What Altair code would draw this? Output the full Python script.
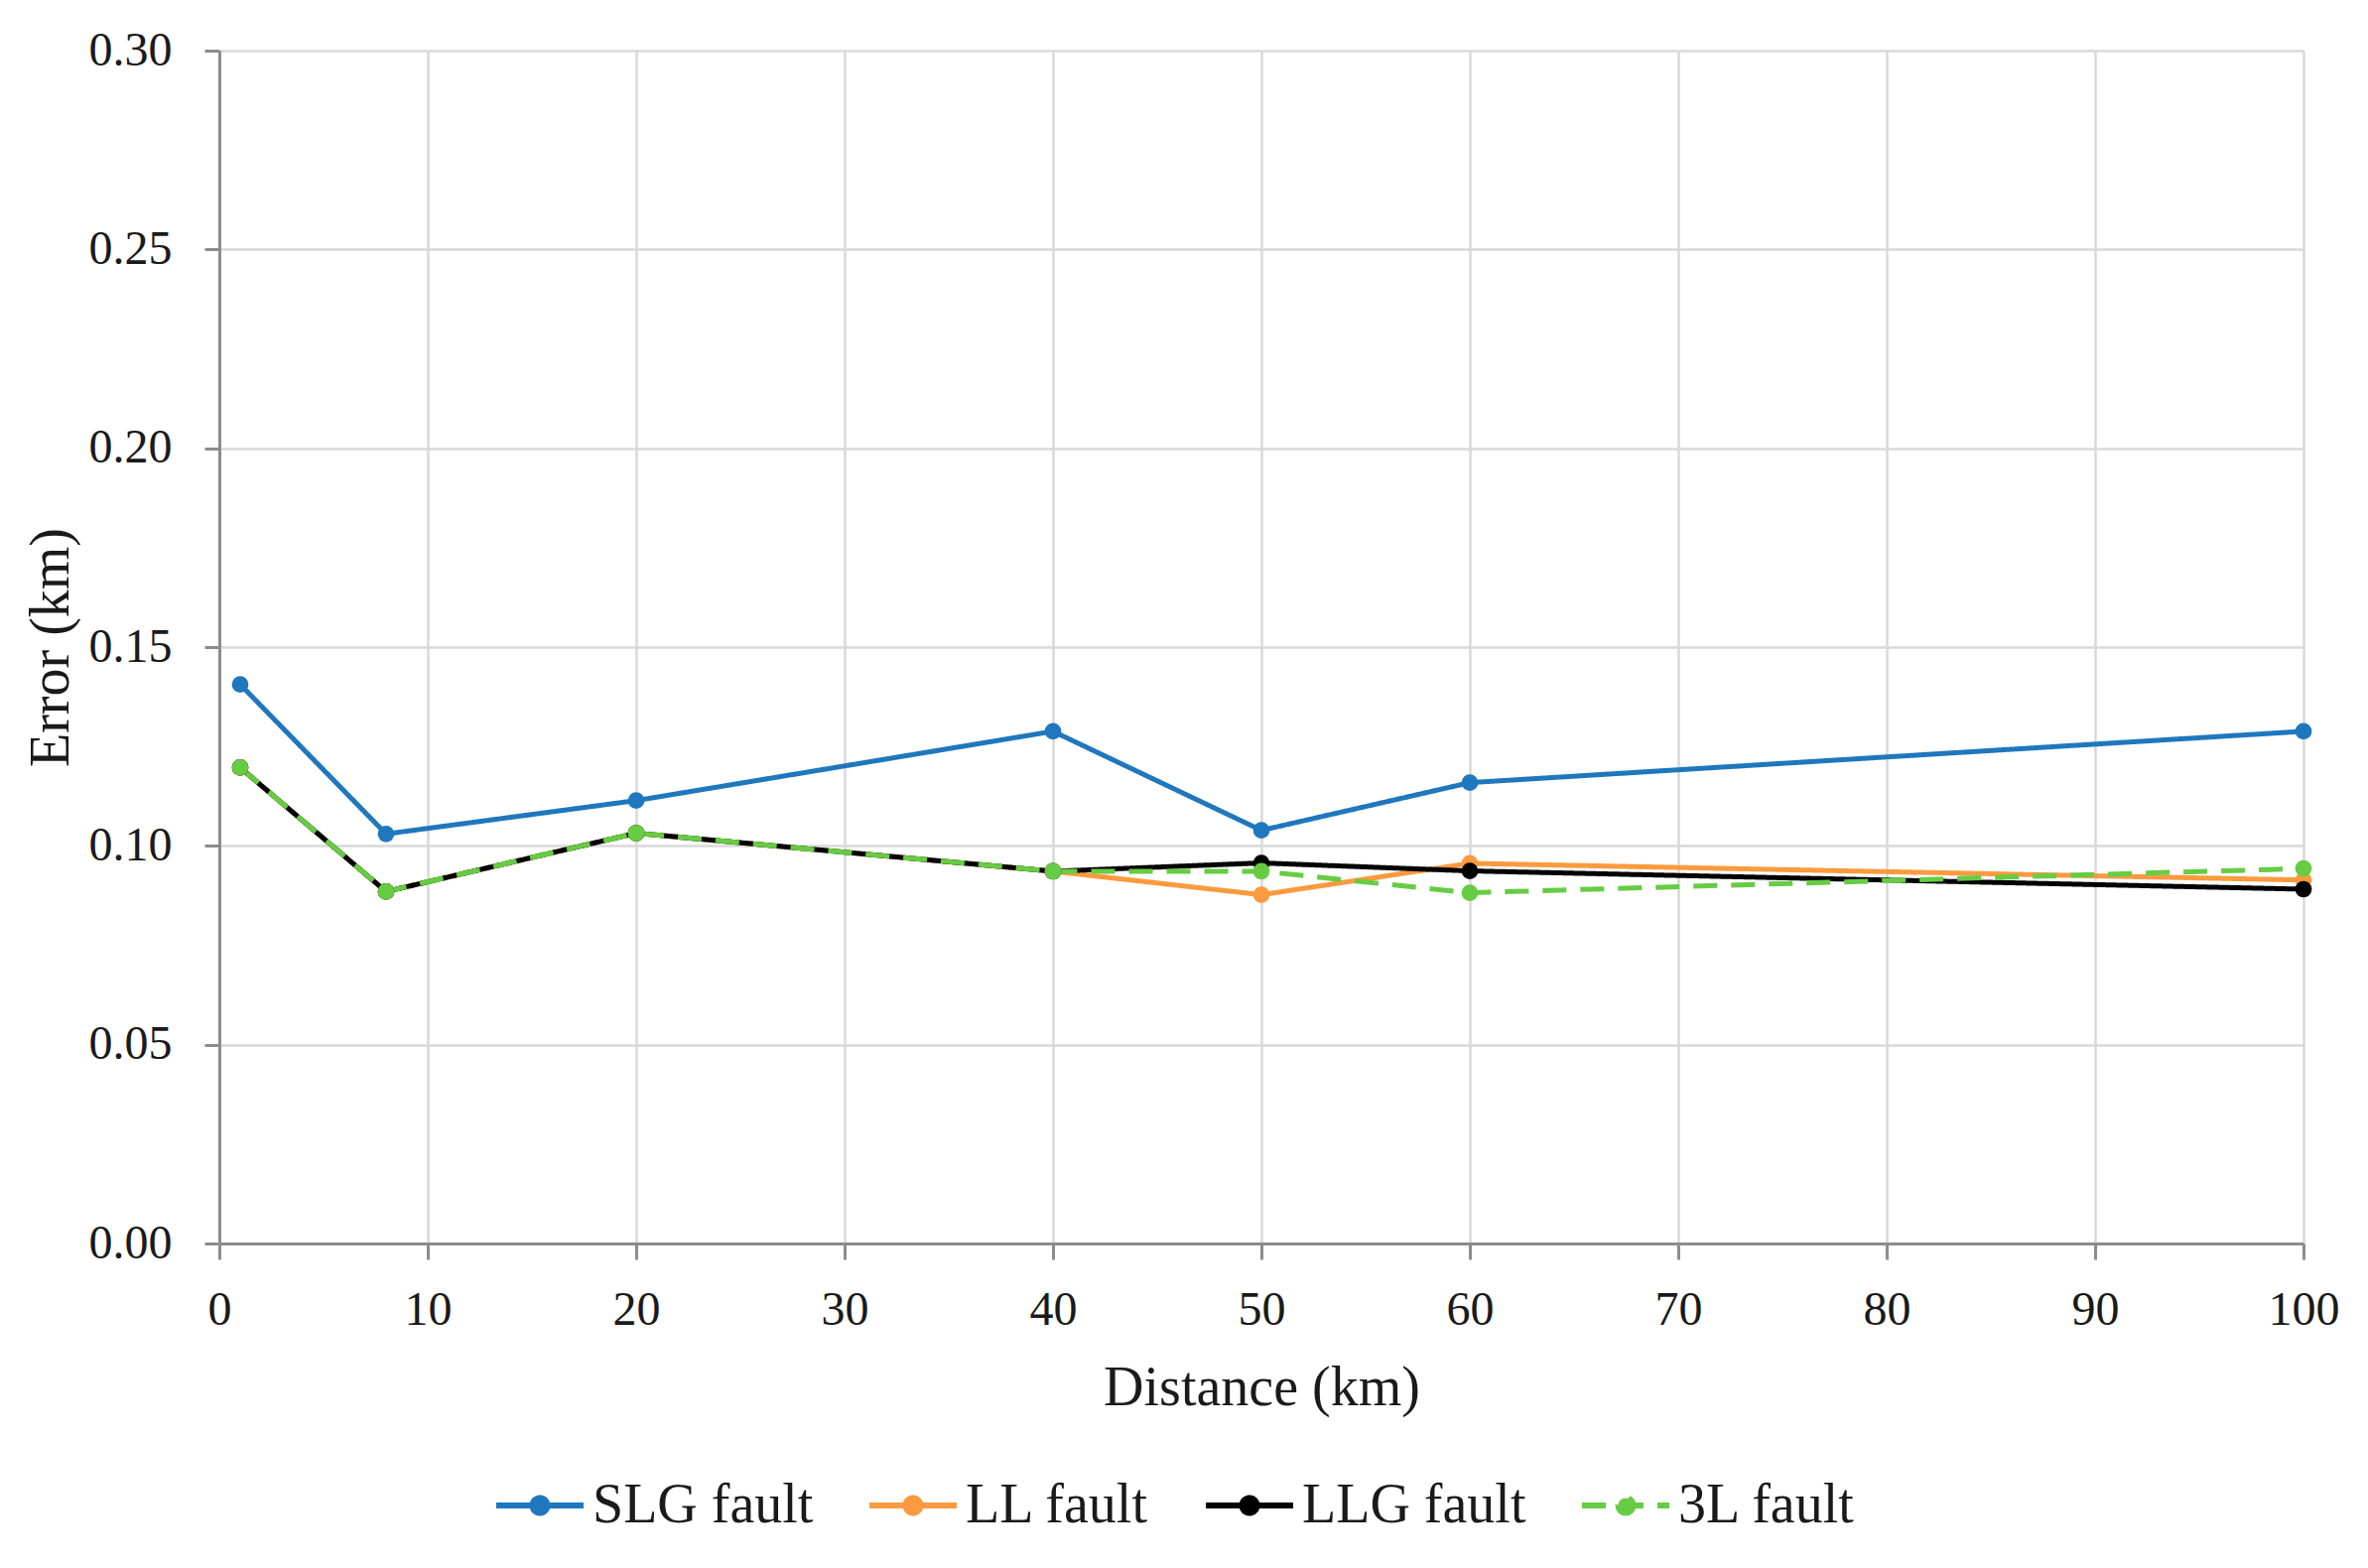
import altair as alt
import pandas as pd

distance = [1, 8, 20, 40, 50, 60, 100]
slg = [0.1406, 0.1030, 0.1114, 0.1288, 0.1039, 0.1159, 0.1288]
ll = [0.1197, 0.0885, 0.1032, 0.0936, 0.0877, 0.0956, 0.0914]
llg = [0.1197, 0.0885, 0.1032, 0.0936, 0.0957, 0.0937, 0.0891]
tl = [0.1197, 0.0885, 0.1032, 0.0936, 0.0936, 0.0882, 0.0943]

series_names = ["SLG fault", "LL fault", "LLG fault", "3L fault"]
series_values = [slg, ll, llg, tl]
series_colors = ["#1F77BD", "#FB9A3E", "#000000", "#66CC44"]
series_dash = [[1, 0], [1, 0], [1, 0], [24, 14]]

x_ticks = [0, 10, 20, 30, 40, 50, 60, 70, 80, 90, 100]
y_ticks = [0.0, 0.05, 0.10, 0.15, 0.20, 0.25, 0.30]

rows = []
for name, vals in zip(series_names, series_values):
    for d, v in zip(distance, vals):
        rows.append({"series": name, "distance": d, "error": v})
df = pd.DataFrame(rows)

FONT = "Liberation Serif"

circle = "M0.17,0 A0.17,0.17 0 1,1 -0.17,0 A0.17,0.17 0 1,1 0.17,0 Z"
legend_sym = "M-1,0 H1 " + circle


def make_legend():
    return alt.Legend(
        orient="none",
        legendX=276,
        legendY=1419,
        direction="horizontal",
        title=None,
        padding=0,
        symbolSize=7744,
        symbolStrokeWidth=6,
        symbolType=legend_sym,
        symbolOpacity=1,
        labelFont=FONT,
        labelFontSize=56,
        labelColor="#1a1a1a",
        labelOffset=6,
        labelLimit=1000,
        columnPadding=44,
    )


color_scale = alt.Scale(domain=series_names, range=series_colors)
dash_scale = alt.Scale(domain=series_names, range=series_dash)

x_enc = alt.X(
    "distance:Q",
    title="Distance (km)",
    scale=alt.Scale(domain=[0, 100], nice=False),
    axis=alt.Axis(values=x_ticks, format="d", tickSize=16, labelPadding=27,
                  titlePadding=27),
)
y_enc = alt.Y(
    "error:Q",
    title="Error (km)",
    scale=alt.Scale(domain=[0, 0.30], nice=False),
    axis=alt.Axis(values=y_ticks, format=".2f", tickSize=15, labelPadding=33,
                  titlePadding=9),
)

base = alt.Chart(df)

lines = base.mark_line(strokeWidth=5).encode(
    x=x_enc,
    y=y_enc,
    color=alt.Color("series:N", scale=color_scale, legend=make_legend(), sort=series_names),
    strokeDash=alt.StrokeDash("series:N", scale=dash_scale, legend=make_legend(), sort=series_names),
)

points = base.mark_point(filled=True, size=280, opacity=1).encode(
    x="distance:Q",
    y="error:Q",
    color=alt.Color("series:N", scale=color_scale, legend=make_legend(), sort=series_names),
)

chart = alt.layer(lines, points).properties(
    width=2100,
    height=1202,
    autosize=alt.AutoSizeParams(type="none"),
    padding={"left": 213, "top": 43, "right": 57, "bottom": 319},
).configure_view(strokeWidth=0).configure_axis(
    labelFont=FONT,
    labelFontSize=48,
    labelColor="#1a1a1a",
    titleFont=FONT,
    titleFontSize=56,
    titleFontWeight="normal",
    titleColor="#1a1a1a",
    gridColor="#D9D9D9",
    gridWidth=2.5,
    domainColor="#8C8C8C",
    domainWidth=3,
    tickColor="#8C8C8C",
    tickWidth=3,
    labelFlush=False,
    labelOverlap=False,
)

chart.save("out.html", embed_options={"renderer": "svg", "actions": False})
